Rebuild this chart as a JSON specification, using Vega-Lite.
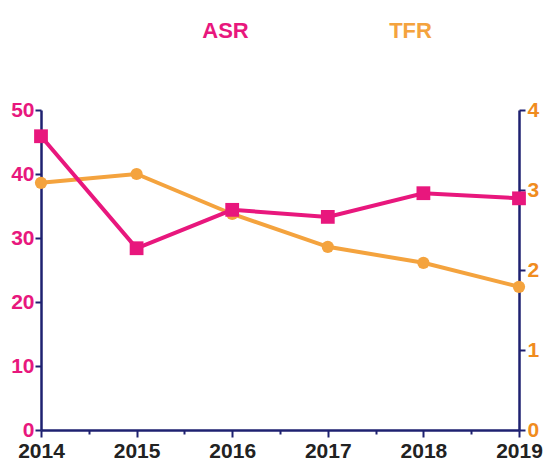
{
  "$schema": "https://vega.github.io/schema/vega-lite/v6.json",
  "autosize": {"type": "none"},
  "padding": {"left": 41, "top": 110, "right": 29, "bottom": 36},
  "width": 478,
  "height": 320,
  "background": "white",
  "config": {
    "view": {"stroke": null},
    "font": "Liberation Sans",
    "axis": {
      "grid": false,
      "domainColor": "#1e2170",
      "domainWidth": 2.5,
      "tickColor": "#1e2170",
      "tickWidth": 2,
      "labelFont": "Liberation Sans",
      "labelFontWeight": "bold",
      "labelFontSize": 21,
      "titleFont": "Liberation Sans",
      "titleFontWeight": "bold",
      "titleFontSize": 22
    }
  },
  "data": {
    "values": [
      {"year": 2014, "ASR": 45.9, "TFR": 3.09},
      {"year": 2015, "ASR": 28.4, "TFR": 3.2},
      {"year": 2016, "ASR": 34.4, "TFR": 2.7},
      {"year": 2017, "ASR": 33.3, "TFR": 2.29},
      {"year": 2018, "ASR": 37.0, "TFR": 2.09},
      {"year": 2019, "ASR": 36.2, "TFR": 1.79}
    ]
  },
  "encoding": {
    "x": {
      "field": "year",
      "type": "quantitative",
      "scale": {"domain": [2014, 2019], "nice": false, "zero": false},
      "axis": {
        "title": null,
        "values": [2014, 2014.5, 2015, 2015.5, 2016, 2016.5, 2017, 2017.5, 2018, 2018.5, 2019],
        "labelExpr": "datum.value % 1 === 0 ? '' + datum.value : ''",
        "tickSize": {"condition": {"test": "datum.value % 1 === 0", "value": 7}, "value": 4},
        "labelColor": "#222222",
        "labelPadding": 3,
        "labelFlush": false,
        "labelOverlap": false
      }
    }
  },
  "layer": [
    {
      "mark": {"type": "line", "color": "#f4a33e", "strokeWidth": 4, "point": {"filled": true, "color": "#f4a33e", "size": 150, "shape": "circle", "opacity": 1}},
      "encoding": {
        "y": {
          "field": "TFR",
          "type": "quantitative",
          "scale": {"domain": [0, 4], "nice": false},
          "axis": {
            "orient": "right",
            "title": "TFR",
            "titleColor": "#f4a33e",
            "titleAngle": 0,
            "titleX": -109,
            "titleY": -80,
            "titleAlign": "center",
            "titleBaseline": "middle",
            "values": [0, 1, 2, 3, 4],
            "labelColor": "#f08c1e",
            "tickSize": 6,
            "labelPadding": 2,
            "labelBaseline": "middle",
            "labelFlush": false
          }
        }
      }
    },
    {
      "mark": {"type": "line", "color": "#e8177d", "strokeWidth": 4, "point": {"filled": true, "color": "#e8177d", "size": 190, "shape": "square", "opacity": 1}},
      "encoding": {
        "y": {
          "field": "ASR",
          "type": "quantitative",
          "scale": {"domain": [0, 50], "nice": false},
          "axis": {
            "orient": "left",
            "title": "ASR",
            "titleColor": "#e8177d",
            "titleAngle": 0,
            "titleX": 184,
            "titleY": -80,
            "titleAlign": "center",
            "titleBaseline": "middle",
            "values": [0, 10, 20, 30, 40, 50],
            "labelColor": "#e8177d",
            "tickSize": 6,
            "labelPadding": 1,
            "labelBaseline": "middle",
            "labelFlush": false
          }
        }
      }
    }
  ],
  "resolve": {"scale": {"y": "independent"}}
}
